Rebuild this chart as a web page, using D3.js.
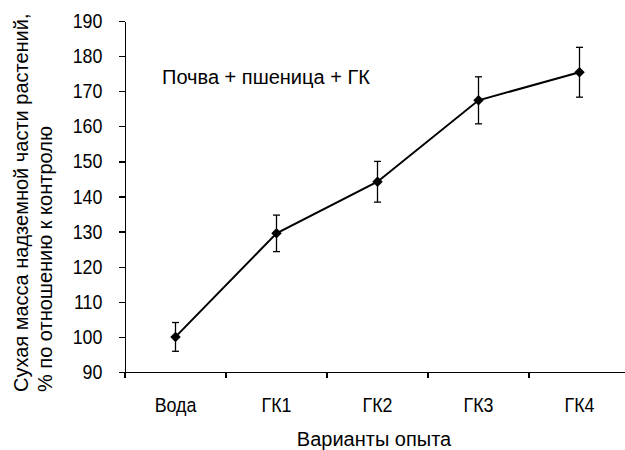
<!DOCTYPE html>
<meta charset="utf-8">
<style>
body { margin: 0; background: #fff; }
svg text { font-family: "Liberation Sans", Arial, sans-serif; fill: #000; }
.axis path, .axis line { fill: none; stroke: #000; stroke-width: 1.3px; shape-rendering: crispEdges; }
.line { fill: none; stroke: #000; stroke-width: 2px; }
.err line { stroke: #000; stroke-width: 1.3px; }
</style>
<body>
<script src="https://d3js.org/d3.v7.min.js"></script>
<script>
// data
var categories = ["Вода", "ГК1", "ГК2", "ГК3", "ГК4"];
var values = [100, 129.5, 144.2, 167.4, 175.4];
var errors = [4.1, 5.2, 5.8, 6.7, 7.1];
var yTicks = [90, 100, 110, 120, 130, 140, 150, 160, 170, 180, 190];

var data = categories.map(function(c, i) {
  return {name: c, value: values[i], err: errors[i]};
});

var width = 625, height = 450;
var plotLeft = 125, plotRight = 630, plotTop = 21, plotBottom = 372;
var squeeze = 0.87;  // tick labels look like a narrow font

var svg = d3.select("body").append("svg")
    .attr("width", width)
    .attr("height", height);

var x = d3.scaleBand().domain(categories).range([plotLeft, plotRight]);
var y = d3.scaleLinear().domain([90, 190]).range([plotBottom, plotTop]);

// y axis
svg.append("g")
    .attr("class", "axis")
    .attr("transform", "translate(" + plotLeft + ",0)")
    .call(d3.axisLeft(y).tickValues(yTicks).tickSize(6).tickSizeOuter(0).tickPadding(20))
  .selectAll("text")
    .style("font-size", "20.5px")
    .attr("transform", "scale(" + squeeze + ",1)");

// x axis: labels centred in bands, ticks on band edges
var xa = svg.append("g")
    .attr("class", "axis")
    .attr("transform", "translate(0," + plotBottom + ")")
    .call(d3.axisBottom(x).tickSize(0).tickSizeOuter(0).tickPadding(25.5));
xa.selectAll("text")
    .style("font-size", "20.5px")
    .attr("transform", "scale(" + squeeze + ",1)");
xa.selectAll(".edge")
    .data(categories)
  .enter().append("line")
    .attr("class", "edge")
    .attr("x1", function(d) { return x(d); })
    .attr("x2", function(d) { return x(d); })
    .attr("y1", 0)
    .attr("y2", 6);

// error bars
var err = svg.append("g").attr("class", "err")
  .selectAll("g")
    .data(data)
  .enter().append("g")
    .attr("transform", function(d) { return "translate(" + (x(d.name) + x.bandwidth() / 2) + ",0)"; });
err.append("line")
    .attr("y1", function(d) { return y(d.value + d.err); })
    .attr("y2", function(d) { return y(d.value - d.err); });
err.append("line")
    .attr("x1", -3.5).attr("x2", 3.5)
    .attr("y1", function(d) { return y(d.value + d.err); })
    .attr("y2", function(d) { return y(d.value + d.err); });
err.append("line")
    .attr("x1", -3.5).attr("x2", 3.5)
    .attr("y1", function(d) { return y(d.value - d.err); })
    .attr("y2", function(d) { return y(d.value - d.err); });

// line
var valueline = d3.line()
    .x(function(d) { return x(d.name) + x.bandwidth() / 2; })
    .y(function(d) { return y(d.value); });

svg.append("path")
    .datum(data)
    .attr("class", "line")
    .attr("d", valueline);

// diamond markers
svg.selectAll(".marker")
    .data(data)
  .enter().append("path")
    .attr("class", "marker")
    .attr("d", d3.symbol().type(d3.symbolDiamond2).size(70))
    .attr("transform", function(d) { return "translate(" + (x(d.name) + x.bandwidth() / 2) + "," + y(d.value) + ")"; })
    .style("fill", "#000");

// annotation
svg.append("text")
    .attr("x", 162)
    .attr("y", 84)
    .style("font-size", "20px")
    .text("Почва + пшеница + ГК");

// axis titles
svg.append("text")
    .attr("x", 374)
    .attr("y", 446)
    .attr("text-anchor", "middle")
    .style("font-size", "20px")
    .text("Варианты опыта");

var yl = svg.append("text")
    .attr("transform", "translate(0,392) rotate(-90)")
    .style("font-size", "20px");
yl.append("tspan").attr("x", 0).attr("y", 28).text("Сухая масса надземной части растений,");
yl.append("tspan").attr("x", 0).attr("y", 52).text("% по отношению к контролю");
</script>
</body>
